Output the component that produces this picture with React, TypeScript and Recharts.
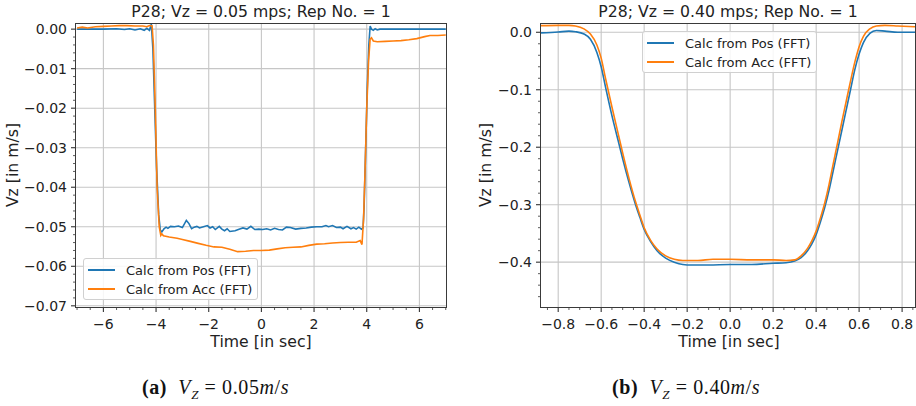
import React from "react";
import { LineChart, Line, XAxis, YAxis, CartesianGrid } from "recharts";

// ---- (a) Vz = 0.05 m/s ----
const posTimeA = [
  -7, -6.5, -6, -5.5, -5.2, -5.0, -4.8, -4.6, -4.45, -4.35,
  -4.25, -4.18, -4.12, -4.05, -3.98, -3.9, -3.84, -3.78, -3.7, -3.62,
  -3.55, -3.45, -3.3, -3.15, -3.0, -2.85, -2.75, -2.65, -2.55, -2.45,
  -2.35, -2.2, -2.05, -1.95, -1.85, -1.75, -1.6, -1.5, -1.4, -1.3,
  -1.2, -1.0, -0.85, -0.7, -0.55, -0.4, -0.25, -0.1, 0.05, 0.2,
  0.35, 0.5, 0.65, 0.8, 0.95, 1.1, 1.3, 1.5, 1.7, 1.9,
  2.1, 2.3, 2.45, 2.55, 2.7, 2.85, 3.0, 3.1, 3.25, 3.4,
  3.5, 3.6, 3.7, 3.8, 3.86, 3.9, 3.96, 4.02, 4.08, 4.13,
  4.18, 4.25, 4.32, 4.4, 4.5, 4.8, 5.2, 6, 7,
];
const posVelA = [
  0, 0, 0, 0.0001, -0.0001, 0.0001, -0.0002, 0.0001, -0.0003, 0.0002,
  -0.0003, 0.0013, -0.005, -0.02, -0.035, -0.047, -0.0508, -0.0513, -0.0505, -0.0501,
  -0.0504, -0.0499, -0.05, -0.0498, -0.0502, -0.0484, -0.0492, -0.0505, -0.0501, -0.0499,
  -0.0503, -0.05, -0.0497, -0.0503, -0.05, -0.0507, -0.0499, -0.0506, -0.051, -0.0505,
  -0.0512, -0.051, -0.0506, -0.0503, -0.0506, -0.0499, -0.0507, -0.0506, -0.0507, -0.0505,
  -0.0508, -0.0504, -0.0507, -0.0508, -0.0501, -0.0502, -0.0506, -0.0504, -0.0503, -0.0501,
  -0.05, -0.05, -0.0497, -0.05, -0.0497, -0.0502, -0.0501, -0.0505, -0.0499, -0.0505,
  -0.0502, -0.0506, -0.0501, -0.0506, -0.0503, -0.045, -0.03, -0.015, -0.004, 0.0008,
  0, -0.0003, 0.0001, -0.0002, 0, 0, 0, 0, 0,
];
const accTimeA = [
  -7, -6.8, -6.6, -6.3, -6.0, -5.7, -5.4, -5.1, -4.8, -4.5,
  -4.35, -4.25, -4.15, -4.1, -4.03, -3.96, -3.88, -3.82, -3.78, -3.72,
  -3.5, -3.2, -3.0, -2.7, -2.4, -2.1, -1.8, -1.5, -1.2, -0.9,
  -0.6, -0.3, 0, 0.3, 0.6, 0.9, 1.2, 1.5, 1.8, 2.1,
  2.4, 2.7, 3.0, 3.3, 3.6, 3.75, 3.82, 3.88, 3.94, 4.0,
  4.07, 4.13, 4.18, 4.25, 4.4, 4.7, 5.0, 5.3, 5.6, 5.9,
  6.2, 6.4, 6.7, 7,
];
const accVelA = [
  0.0003, 0.0005, 0.0003, 0.0006, 0.0007, 0.0008, 0.0009, 0.0009, 0.0008, 0.0008,
  0.0006, 0.0009, 0.0008, -0.004, -0.02, -0.04, -0.05, -0.0522, -0.0518, -0.0523,
  -0.0526, -0.0529, -0.0532, -0.0537, -0.0542, -0.0547, -0.0551, -0.0552, -0.0557, -0.0563,
  -0.0562, -0.056, -0.056, -0.0559, -0.0556, -0.0553, -0.0552, -0.0551, -0.0547, -0.0544,
  -0.0543, -0.0541, -0.054, -0.0539, -0.0539, -0.0535, -0.0545, -0.048, -0.035, -0.02,
  -0.008, -0.0025, -0.0022, -0.003, -0.0032, -0.0031, -0.003, -0.0029, -0.0027, -0.0024,
  -0.0019, -0.0016, -0.0016, -0.0015,
];

// ---- (b) Vz = 0.40 m/s ----
const posTimeB = [
  -0.88, -0.8, -0.75, -0.72, -0.68, -0.65, -0.62, -0.6, -0.58, -0.55,
  -0.52, -0.5, -0.47, -0.44, -0.42, -0.4, -0.37, -0.34, -0.3, -0.26,
  -0.22, -0.18, -0.1, 0, 0.1, 0.2, 0.26, 0.3, 0.33, 0.36,
  0.38, 0.4, 0.42, 0.44, 0.46, 0.48, 0.5, 0.52, 0.54, 0.56,
  0.58, 0.6, 0.62, 0.65, 0.68, 0.72, 0.78, 0.86,
];
const posVelB = [
  -0.001, 0.0005, 0.002, 0.001, -0.003, -0.012, -0.035, -0.06, -0.095, -0.145,
  -0.19, -0.22, -0.262, -0.3, -0.322, -0.343, -0.364, -0.38, -0.393, -0.4,
  -0.404, -0.405, -0.405, -0.404, -0.404, -0.402, -0.401, -0.398, -0.392, -0.38,
  -0.368, -0.352, -0.33, -0.305, -0.275, -0.24, -0.205, -0.17, -0.135, -0.1,
  -0.065, -0.038, -0.018, -0.002, 0.003, 0.002, 0, 0,
];
const accTimeB = [
  -0.88, -0.8, -0.75, -0.72, -0.68, -0.65, -0.62, -0.6, -0.58, -0.55,
  -0.52, -0.5, -0.47, -0.44, -0.42, -0.4, -0.37, -0.34, -0.3, -0.26,
  -0.22, -0.15, -0.08, 0, 0.1, 0.2, 0.26, 0.3, 0.33, 0.36,
  0.38, 0.4, 0.42, 0.44, 0.46, 0.48, 0.5, 0.52, 0.54, 0.56,
  0.58, 0.6, 0.62, 0.65, 0.68, 0.72, 0.78, 0.86,
];
const accVelB = [
  0.0115, 0.012, 0.012, 0.011, 0.006, -0.003, -0.022, -0.045, -0.08, -0.13,
  -0.178, -0.21, -0.255, -0.295, -0.318, -0.34, -0.362, -0.377, -0.389, -0.395,
  -0.397, -0.397, -0.395, -0.395, -0.396, -0.396, -0.397, -0.396, -0.389, -0.376,
  -0.363, -0.346, -0.323, -0.297, -0.265, -0.228, -0.192, -0.155, -0.12, -0.085,
  -0.052, -0.025, -0.007, 0.006, 0.011, 0.012, 0.011, 0.0095,
];

const xTicksA = [-6, -4, -2, 0, 2, 4, 6];
const yTicksA = [0, -0.01, -0.02, -0.03, -0.04, -0.05, -0.06, -0.07];
const xTicksB = [-0.8, -0.6, -0.4, -0.2, 0, 0.2, 0.4, 0.6, 0.8];
const yTicksB = [0, -0.1, -0.2, -0.3, -0.4];

const titles = ["P28; Vz = 0.05 mps; Rep No. = 1", "P28; Vz = 0.40 mps; Rep No. = 1"];
const seriesNames = ["Calc from Pos (FFT)", "Calc from Acc (FFT)"];
const BLUE = "#1f77b4";
const ORANGE = "#ff7f0e";

const zip = (t: number[], v: number[]) => t.map((x, i) => ({ t: x, v: v[i] }));

// minor tick positions (matplotlib AutoMinorLocator style)
const steps = (from: number, to: number, step: number) => {
  const out: number[] = [];
  const n = Math.round((to - from) / step);
  for (let i = 0; i <= n; i++) out.push(Math.round((from + i * step) * 1e6) / 1e6);
  return out;
};

const minus = (s: string) => s.replace("-", "\u2212");
const isMajor = (majors: number[], v: number) => majors.some((m) => Math.abs(m - v) < 1e-9);

const TICK_COLOR = "#333";
const LABEL_COLOR = "#222";

const makeXTick = (majors: number[], digits: number) => (props: any) => {
  const { x, y, payload } = props;
  const major = isMajor(majors, payload.value);
  const len = major ? 5 : 3;
  return (
    <g>
      <line x1={x} x2={x} y1={y} y2={y + len} stroke={TICK_COLOR} strokeWidth={major ? 1.1 : 0.8} />
      {major && (
        <text x={x} y={y + 22} textAnchor="middle" fontSize={14} fill={LABEL_COLOR} fontFamily="DejaVu Sans">
          {minus(payload.value.toFixed(digits))}
        </text>
      )}
    </g>
  );
};

const makeYTick = (majors: number[], digits: number) => (props: any) => {
  const { x, y, payload } = props;
  const major = isMajor(majors, payload.value);
  const len = major ? 5 : 3;
  return (
    <g>
      <line x1={x - len} x2={x} y1={y} y2={y} stroke={TICK_COLOR} strokeWidth={major ? 1.1 : 0.8} />
      {major && (
        <text x={x - 9} y={y + 5} textAnchor="end" fontSize={14} fill={LABEL_COLOR} fontFamily="DejaVu Sans">
          {minus(payload.value.toFixed(digits))}
        </text>
      )}
    </g>
  );
};

function Panel(props: {
  left: number;
  width: number;
  yAxisWidth: number;
  marginRight: number;
  pos: { t: number; v: number }[];
  acc: { t: number; v: number }[];
  xDomain: [number, number];
  yDomain: [number, number];
  xMajor: number[];
  yMajor: number[];
  xMinor: number[];
  yMinor: number[];
  xDigits: number;
  yDigits: number;
  curve: "linear" | "monotone";
}) {
  return (
    <div style={{ position: "absolute", left: props.left, top: 0 }}>
      <LineChart
        width={props.width}
        height={406}
        margin={{ top: 24, right: props.marginRight, bottom: 69, left: 0 }}
      >
        <CartesianGrid
          stroke="#c6c6c6"
          strokeWidth={1.1}
          verticalValues={props.xMajor}
          horizontalValues={props.yMajor}
        />
        <XAxis
          dataKey="t"
          type="number"
          domain={props.xDomain}
          allowDataOverflow
          ticks={props.xMinor}
          interval={0}
          height={30}
          axisLine={false}
          tickLine={false}
          tickSize={0}
          tickMargin={0}
          tick={makeXTick(props.xMajor, props.xDigits)}
        />
        <YAxis
          type="number"
          domain={props.yDomain}
          allowDataOverflow
          ticks={props.yMinor}
          interval={0}
          width={props.yAxisWidth}
          axisLine={false}
          tickLine={false}
          tickSize={0}
          tickMargin={0}
          tick={makeYTick(props.yMajor, props.yDigits)}
        />
        <Line
          data={props.pos}
          dataKey="v"
          type={props.curve}
          stroke={BLUE}
          strokeWidth={1.6}
          dot={false}
          isAnimationActive={false}
        />
        <Line
          data={props.acc}
          dataKey="v"
          type={props.curve}
          stroke={ORANGE}
          strokeWidth={1.6}
          dot={false}
          isAnimationActive={false}
        />
      </LineChart>
    </div>
  );
}

function LegendBox({ left, top }: { left: number; top: number }) {
  return (
    <div
      style={{
        position: "absolute",
        left,
        top,
        width: 175,
        height: 42,
        boxSizing: "border-box",
        border: "1px solid #d0d0d0",
        borderRadius: 3,
        background: "rgba(255,255,255,0.85)",
        fontSize: 13,
        color: LABEL_COLOR,
      }}
    >
      {seriesNames.map((name, i) => (
        <div key={name} style={{ position: "absolute", left: 4, top: 1.5 + i * 19.4, height: 19, display: "flex", alignItems: "center" }}>
          <span style={{ display: "inline-block", width: 27, height: 2, background: i === 0 ? BLUE : ORANGE, marginRight: 11 }} />
          <span style={{ whiteSpace: "nowrap" }}>{name}</span>
        </div>
      ))}
    </div>
  );
}

function Frame({ left, right }: { left: number; right: number }) {
  return (
    <div
      style={{
        position: "absolute",
        left: left - 0.75,
        top: 23.25,
        width: right - left + 1.5,
        height: 284.5,
        boxSizing: "border-box",
        border: "1.5px solid #3a3a3a",
        pointerEvents: "none",
      }}
    />
  );
}

const textAbs = (left: number, top: number, size: number): React.CSSProperties => ({
  position: "absolute",
  left,
  top,
  fontSize: size,
  color: LABEL_COLOR,
  whiteSpace: "nowrap",
  transform: "translate(-50%, -50%)",
  lineHeight: 1,
});

const captionStyle = (left: number): React.CSSProperties => ({
  position: "absolute",
  left,
  top: 376,
  fontFamily: "'Liberation Serif', serif",
  fontSize: 20,
  letterSpacing: 0.6,
  color: "#111",
  whiteSpace: "nowrap",
});

export default function App() {
  return (
    <div
      style={{
        position: "absolute",
        left: 0,
        top: 0,
        width: 916,
        height: 406,
        background: "#fff",
        overflow: "hidden",
        fontFamily: "'DejaVu Sans', sans-serif",
      }}
    >
      <Panel
        left={0}
        width={460}
        yAxisWidth={76}
        marginRight={14}
        pos={zip(posTimeA, posVelA)}
        acc={zip(accTimeA, accVelA)}
        xDomain={[-7.04, 7.01]}
        yDomain={[-0.0703, 0.0013]}
        xMajor={xTicksA}
        yMajor={yTicksA}
        xMinor={steps(-7, 7, 0.5)}
        yMinor={steps(-0.07, 0, 0.002)}
        xDigits={0}
        yDigits={2}
        curve="linear"
      />
      <Panel
        left={460}
        width={456}
        yAxisWidth={81}
        marginRight={1}
        pos={zip(posTimeB, posVelB)}
        acc={zip(accTimeB, accVelB)}
        xDomain={[-0.88, 0.86]}
        yDomain={[-0.478, 0.0144]}
        xMajor={xTicksB}
        yMajor={yTicksB}
        xMinor={steps(-0.85, 0.85, 0.05)}
        yMinor={steps(-0.46, 0, 0.02)}
        xDigits={1}
        yDigits={1}
        curve="monotone"
      />
      <Frame left={76} right={446} />
      <Frame left={541} right={915} />
      <LegendBox left={83} top={258} />
      <LegendBox left={642} top={31} />

      <div style={textAbs(261, 12, 15.7)}>{titles[0]}</div>
      <div style={textAbs(728, 12, 15.7)}>{titles[1]}</div>
      <div style={textAbs(261, 342, 15.7)}>Time [in sec]</div>
      <div style={textAbs(729, 342, 15.7)}>Time [in sec]</div>
      <div style={{ ...textAbs(13, 165, 15.7), transform: "translate(-50%, -50%) rotate(-90deg)" }}>Vz [in m/s]</div>
      <div style={{ ...textAbs(486, 165, 15.7), transform: "translate(-50%, -50%) rotate(-90deg)" }}>Vz [in m/s]</div>

      <div style={captionStyle(142)}>
        <b>(a)</b>&nbsp;&nbsp;<i>V</i><sub style={{ fontSize: 13 }}><i>Z</i></sub> = 0.05<i>m</i>/<i>s</i>
      </div>
      <div style={captionStyle(612)}>
        <b>(b)</b>&nbsp;&nbsp;<i>V</i><sub style={{ fontSize: 13 }}><i>Z</i></sub> = 0.40<i>m</i>/<i>s</i>
      </div>
    </div>
  );
}
